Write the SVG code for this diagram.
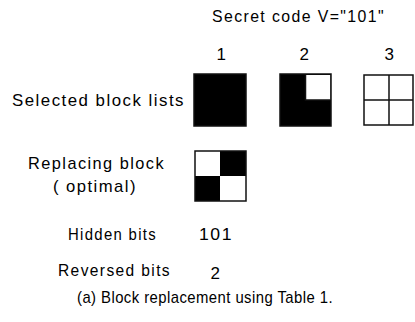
<svg xmlns="http://www.w3.org/2000/svg" width="415" height="322" viewBox="0 0 415 322">
<style>
text{font-family:"Liberation Sans",Arial,sans-serif;font-size:17px;fill:#000;letter-spacing:1.5px}
.cap{letter-spacing:0.5px}
.blk{stroke:#111;stroke-width:1.5;fill:none}
.f{fill:#000}
.w{fill:#fff}
</style>
<rect width="415" height="322" fill="#fff"/>
<g id="title"><text x="212" y="22" textLength="173" lengthAdjust="spacingAndGlyphs">Secret code V="101"</text></g>
<g id="indices">
<text x="222" y="60" text-anchor="middle" letter-spacing="0">1</text>
<text x="305" y="60" text-anchor="middle" letter-spacing="0">2</text>
<text x="390" y="60" text-anchor="middle" letter-spacing="0">3</text>
</g>
<g id="label-selected"><text x="12" y="106" textLength="173" lengthAdjust="spacingAndGlyphs">Selected block lists</text></g>
<g id="block1">
<rect x="194" y="74" width="52" height="52" class="f"/>
<rect x="194" y="74" width="52" height="52" class="blk"/>
</g>
<g id="block2">
<rect x="280" y="74" width="51" height="52" class="f"/>
<rect x="305.5" y="75" width="25" height="25" class="w"/>
<path d="M305.5 74.5V100H330.5" class="blk" stroke="#444"/>
<rect x="280" y="74" width="51" height="52" class="blk"/>
</g>
<g id="block3">
<rect x="364" y="75" width="49" height="50" class="w"/>
<path d="M389 75V125M364 100H413" class="blk" stroke-width="2"/>
<rect x="364" y="75" width="49" height="50" class="blk"/>
</g>
<g id="label-replacing">
<text x="28" y="169" textLength="137" lengthAdjust="spacingAndGlyphs">Replacing block</text>
<text x="53" y="192" textLength="84" lengthAdjust="spacingAndGlyphs">( optimal)</text>
</g>
<g id="replacing-block">
<rect x="195" y="151" width="51" height="50" class="w"/>
<rect x="220" y="151" width="26" height="25" class="f"/>
<rect x="195" y="176" width="25" height="25" class="f"/>
<rect x="195" y="151" width="51" height="50" class="blk"/>
</g>
<g id="hidden">
<text x="68" y="240" textLength="89" lengthAdjust="spacingAndGlyphs">Hidden bits</text>
<text x="199" y="240" textLength="34" lengthAdjust="spacingAndGlyphs">101</text>
</g>
<g id="reversed">
<text x="58" y="276" textLength="113" lengthAdjust="spacingAndGlyphs">Reversed bits</text>
<text x="216" y="279" text-anchor="middle" letter-spacing="0">2</text>
</g>
<g id="caption"><text class="cap" x="77" y="303" textLength="256" lengthAdjust="spacingAndGlyphs">(a) Block replacement using Table 1.</text></g>
<g id="connectors"/>
</svg>
